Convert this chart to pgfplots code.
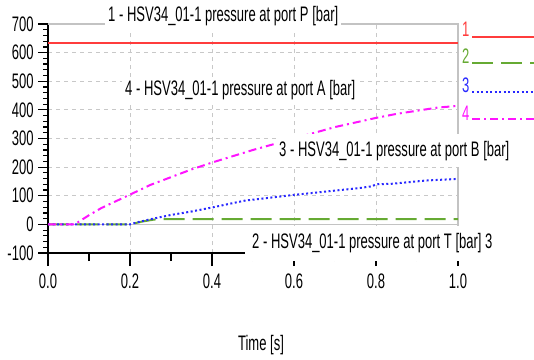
\documentclass[border=0pt]{standalone}
\usepackage{pgfplots}
\pgfplotsset{compat=1.18}
\usepackage{fontspec}
\setmainfont{Liberation Sans}[FakeStretch=0.62]
\newcommand\F{\fontsize{21bp}{23bp}\selectfont}
\definecolor{cred}{RGB}{255,60,60}
\definecolor{cgreen}{RGB}{102,170,51}
\definecolor{cblue}{RGB}{40,40,255}
\definecolor{cmag}{RGB}{255,20,255}
\definecolor{cgrid}{RGB}{200,200,200}
\definecolor{cframe}{RGB}{195,195,195}
\begin{document}
\begin{tikzpicture}
\begin{axis}[
  at={(48bp,106bp)}, anchor=south west,
  scale only axis, width=410bp, height=229bp,
  xmin=0, xmax=1, ymin=-100, ymax=700,
  axis x line*=bottom, axis y line*=left,
  axis line style={black, line width=1.5bp},
  xtick={0,0.2,0.4,0.6,0.8,1},
  xticklabels={0.0,0.2,0.4,0.6,0.8,1.0},
  minor xtick={0.1,0.3,0.5,0.7,0.9},
  ytick={-100,0,100,200,300,400,500,600,700},
  yticklabels={-100,0,100,200,300,400,500,600,700},
  minor y tick num=4,
  tick align=outside,
  xtick style={black, line width=1.2bp, /pgfplots/major tick length=13bp, /pgfplots/minor tick length=8bp},
  ytick style={black, line width=1.2bp, /pgfplots/major tick length=10bp, /pgfplots/minor tick length=5bp},
  grid=major,
  major grid style={cgrid, line width=1bp, dash pattern=on 4bp off 4bp},
  ticklabel style={font=\F, inner sep=1bp},
  xticklabel style={yshift=-15bp},
  yticklabel style={xshift=-9bp},
  /pgf/number format/assume math mode=true,
  clip=false,
]
\draw[cframe, line width=1.2bp] (axis cs:0,700) -- (axis cs:1,700) -- (axis cs:1,-100);
\draw[cframe, line width=1.2bp] (axis cs:0,0) -- (axis cs:1,0);
\addplot[cred, line width=2bp] coordinates {(0,632) (1,632)};
\addplot[cgreen, line width=2bp, dash pattern=on 21bp off 8bp] coordinates {
(0,0) (0.2,0) (0.23,10) (0.26,17) (0.28,18) (1.0,18)};
\addplot[cblue, line width=2bp, dash pattern=on 2bp off 2.5bp] coordinates {
(0,0) (0.2,0) (0.22,8) (0.25,18) (0.3,33) (0.35,45) (0.4,59) (0.48,83) (0.54,93)
(0.6,103) (0.68,115) (0.76,127) (0.79,133) (0.8,140) (0.84,142) (0.92,153) (1.0,159)};
\addplot[cmag, line width=2bp, dash pattern=on 8bp off 4bp on 2bp off 4bp] coordinates {
(0,0) (0.065,0) (0.1,32) (0.13,57) (0.2,104) (0.25,138) (0.3,165) (0.35,192) (0.4,216)
(0.45,238) (0.5,260) (0.55,280) (0.6,300) (0.65,320) (0.7,340) (0.75,356) (0.8,372)
(0.85,386) (0.9,397) (0.95,408) (1.0,414)};
\end{axis}
\begin{scope}[x=1bp, y=-1bp, yshift=359bp]
\tikzset{lab/.style={anchor=base west, fill=white, font=\F, text height=15bp, text depth=4bp, inner xsep=3bp, inner ysep=3bp}}
\node[lab] at (105,22) {1 - HSV34\_01-1 pressure at port P [bar]};
\node[lab] at (122,95) {4 - HSV34\_01-1 pressure at port A [bar]};
\node[lab, inner ysep=7bp] at (276,156) {3 - HSV34\_01-1 pressure at port B [bar]};
\node[lab, inner xsep=7bp, inner ysep=7bp, text depth=6bp] at (245,248) {2 - HSV34\_01-1 pressure at port T [bar] 3};
\node[anchor=base, font=\F] at (261,350) {Time [s]};
\node[anchor=base west, font=\F, text=cred, inner sep=0pt] at (462,37) {1};
\node[anchor=base west, font=\F, text=cgreen, inner sep=0pt] at (462,63) {2};
\node[anchor=base west, font=\F, text=cblue, inner sep=0pt] at (462,92) {3};
\node[anchor=base west, font=\F, text=cmag, inner sep=0pt] at (462,120) {4};
\draw[cred, line width=2bp] (472,37) -- (540,37);
\draw[cgreen, line width=2bp, dash pattern=on 21bp off 8bp] (472,63) -- (540,63);
\draw[cblue, line width=2bp, dash pattern=on 2bp off 2.5bp] (472,92) -- (540,92);
\draw[cmag, line width=2bp, dash pattern=on 8bp off 4bp on 2bp off 4bp] (472,119) -- (540,119);
\pgfresetboundingbox
\path[use as bounding box] (0,0) rectangle (534,359);
\end{scope}
\end{tikzpicture}
\end{document}
